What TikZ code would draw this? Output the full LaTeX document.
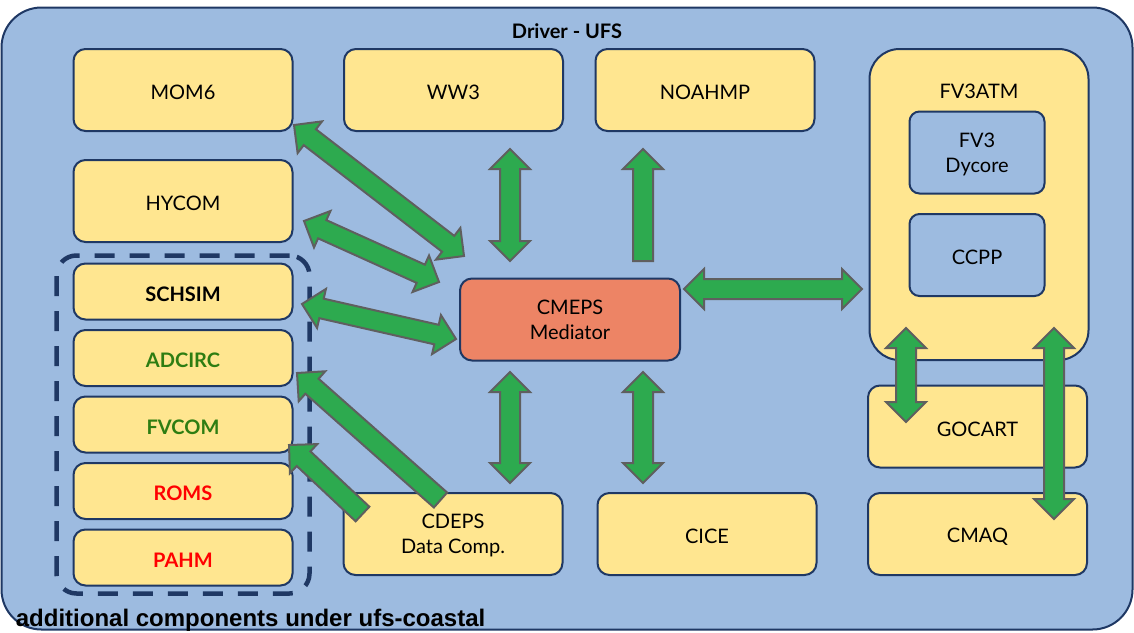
\documentclass[tikz,border=0pt]{standalone}
\usepackage{fontspec}
\setmainfont{Lato}
\newfontfamily\arialfont{Liberation Sans}
\usepackage{tikz}
\usetikzlibrary{positioning}
\usetikzlibrary{calc}
\usetikzlibrary{fit}

\definecolor{driverblue}{HTML}{9DBBE0}
\definecolor{compyellow}{HTML}{FFE690}
\definecolor{navy}{HTML}{1F3864}
\definecolor{medsalmon}{HTML}{ED8465}
\definecolor{arrowgreen}{HTML}{2DAA4F}
\definecolor{arrowgray}{HTML}{5F5F5F}
\definecolor{coastgreen}{HTML}{2E7D12}
\definecolor{coastred}{HTML}{FF0000}

\newcommand{\arrhead}{10pt}
\newcommand{\arrwing}{10pt}
\newcommand{\arrshaft}{5pt}
% line without depth, so descenders do not move the text %
\newcommand{\nodepth}[1]{\raisebox{0pt}[\height][0pt]{#1}}

% block arrow with a head at both ends %
\newcommand{\twoway}[2]{%
  \filldraw[blockarrow] (#1)
    -- ($($(#1)!\arrhead!(#2)$)!\arrwing!90:(#2)$)
    -- ($($(#1)!\arrhead!(#2)$)!\arrshaft!90:(#2)$)
    -- ($($(#2)!\arrhead!(#1)$)!\arrshaft!90:(#2)$)
    -- ($($(#2)!\arrhead!(#1)$)!\arrwing!90:(#2)$)
    -- (#2)
    -- ($($(#2)!\arrhead!(#1)$)!\arrwing!-90:(#2)$)
    -- ($($(#2)!\arrhead!(#1)$)!\arrshaft!-90:(#2)$)
    -- ($($(#1)!\arrhead!(#2)$)!\arrshaft!-90:(#2)$)
    -- ($($(#1)!\arrhead!(#2)$)!\arrwing!-90:(#2)$)
    -- cycle;}
% block arrow with one head %
\newcommand{\oneway}[2]{%
  \filldraw[blockarrow] ($(#1)!\arrshaft!90:(#2)$)
    -- ($($(#2)!\arrhead!(#1)$)!\arrshaft!90:(#2)$)
    -- ($($(#2)!\arrhead!(#1)$)!\arrwing!90:(#2)$)
    -- (#2)
    -- ($($(#2)!\arrhead!(#1)$)!\arrwing!-90:(#2)$)
    -- ($($(#2)!\arrhead!(#1)$)!\arrshaft!-90:(#2)$)
    -- ($(#1)!\arrshaft!-90:(#2)$)
    -- cycle;}

\tikzset{
  boxbase/.style={draw=navy, line width=1pt, fill=compyellow, rounded corners=6pt,
    minimum width=109.5pt, minimum height=41pt, align=center,
    font=\fontsize{10}{12.5}\selectfont},
  comp/.style={boxbase, text height=9.6pt},
  coast/.style={comp, minimum height=28pt, font=\fontsize{10}{12.5}\selectfont\bfseries},
  sub/.style={boxbase, fill=driverblue, minimum width=67.5pt, rounded corners=5pt},
  blockarrow/.style={fill=arrowgreen, draw=arrowgray, line width=1pt, line join=miter},
}

\begin{document}
\begin{tikzpicture}[x=0.5pt, y=-0.5pt]
  \useasboundingbox (0,0) rectangle (1134,632);
  % driver %
  \node[draw=navy, line width=1pt, fill=driverblue, rounded corners=20pt,
    minimum width=565.5pt, minimum height=311pt,
    label={[anchor=center, yshift=-12.5pt, font=\fontsize{10}{12}\selectfont\bfseries]north:Driver - UFS},
    label={[anchor=base west, inner sep=0pt, xshift=7.5pt, yshift=2pt,
      font=\arialfont\fontsize{12}{14}\selectfont\bfseries]south west:additional components under ufs-coastal}]
    (driver) at (567,318.5) {};
  % components %
  \node[comp] (mom6) at (183,90) {MOM6};
  \node[comp] (ww3) at (453.5,90) {WW3};
  \node[comp] (noahmp) at (705,90) {NOAHMP};
  \node[comp] (hycom) at (183,201) {HYCOM};
  \node[boxbase, fill=medsalmon, minimum width=110pt] (cmeps) at (570,319.5) {CMEPS\\Mediator};
  \node[boxbase] (cdeps) at (453,534) {CDEPS\\\nodepth{Data Comp.}};
  \node[comp] (cice) at (707,534) {CICE};
  \node[comp, minimum height=155.5pt, rounded corners=15pt,
    label={[anchor=center, yshift=-21.5pt, font=\fontsize{10}{12}\selectfont]north:FV3ATM}]
    (fv3atm) at (979,204.5) {};
  \node[sub] (dycore) at (977,152.5) {FV3\\\nodepth{Dycore}};
  \node[sub, text height=9.6pt] (ccpp) at (977,255) {CCPP};
  \node[comp] (gocart) at (977.5,426.5) {GOCART};
  \node[comp] (cmaq) at (977.5,534) {CMAQ};
  % ufs-coastal %
  \node[coast] (schsim) at (183,291.5) {SCHSIM};
  \node[coast, below=4.25pt of schsim, text=coastgreen] (adcirc) {ADCIRC};
  \node[coast, below=4.25pt of adcirc, text=coastgreen] (fvcom) {FVCOM};
  \node[coast, below=4.25pt of fvcom, text=coastred] (roms) {ROMS};
  \node[coast, below=4.25pt of roms, text=coastred] (pahm) {PAHM};
  \node[draw=navy, line width=2.25pt, dash pattern=on 10pt off 7.5pt, rounded corners=10pt,
    inner xsep=8pt, inner ysep=3.5pt, fit=(schsim)(pahm)] (coastal) {};
  % arrow ends %
  \coordinate (mom6a) at ($(mom6.south east)+(0.5,-7)$);
  \coordinate (mom6b) at ($(cmeps.north west)+(5,-21.5)$);
  \coordinate (hycoma) at ($(hycom.east)+(10.5,20)$);
  \coordinate (hycomb) at ($(cmeps.north west)+(-20,4.5)$);
  \coordinate (schsima) at ($(schsim.east)+(8.5,12.5)$);
  \coordinate (schsimb) at ($(cmeps.west)+(-3,19.5)$);
  \coordinate (ww3a) at ($(ww3.south)+(56.5,17)$);
  \coordinate (ww3b) at ($(cmeps.north)+(-60,-16.5)$);
  \coordinate (noahmpa) at ($(cmeps.north)+(73,-16.5)$);
  \coordinate (noahmpb) at ($(noahmp.south)+(-62,17)$);
  \coordinate (atma) at ($(cmeps.east)+(3,-30.5)$);
  \coordinate (atmb) at ($(fv3atm.west)+(-6.5,84.5)$);
  \coordinate (cdepsa) at ($(cmeps.south)+(-60,10.5)$);
  \coordinate (cdepsb) at ($(cdeps.north)+(57,-9)$);
  \coordinate (cicea) at ($(cmeps.south)+(73,10.5)$);
  \coordinate (ciceb) at ($(cice.north)+(-64,-9)$);
  \coordinate (adcirca) at ($(cdeps.north west)+(98,8)$);
  \coordinate (adcircb) at ($(adcirc.east)+(3.5,15)$);
  \coordinate (fvcoma) at ($(cdeps.west)+(20,-20)$);
  \coordinate (fvcomb) at ($(fvcom.east)+(-4.5,20.5)$);
  \coordinate (gocarta) at ($(fv3atm.south)+(-73,-33)$);
  \coordinate (gocartb) at ($(gocart.north)+(-71.5,37.5)$);
  \coordinate (cmaqa) at ($(fv3atm.south)+(75,-33)$);
  \coordinate (cmaqb) at ($(cmaq.north)+(76.5,27)$);
  % arrows %
  \twoway{mom6a}{mom6b}
  \twoway{hycoma}{hycomb}
  \twoway{schsima}{schsimb}
  \twoway{ww3a}{ww3b}
  \oneway{noahmpa}{noahmpb}
  \twoway{atma}{atmb}
  \twoway{cdepsa}{cdepsb}
  \twoway{cicea}{ciceb}
  \oneway{adcirca}{adcircb}
  \oneway{fvcoma}{fvcomb}
  \twoway{gocarta}{gocartb}
  \twoway{cmaqa}{cmaqb}
\end{tikzpicture}
\end{document}
